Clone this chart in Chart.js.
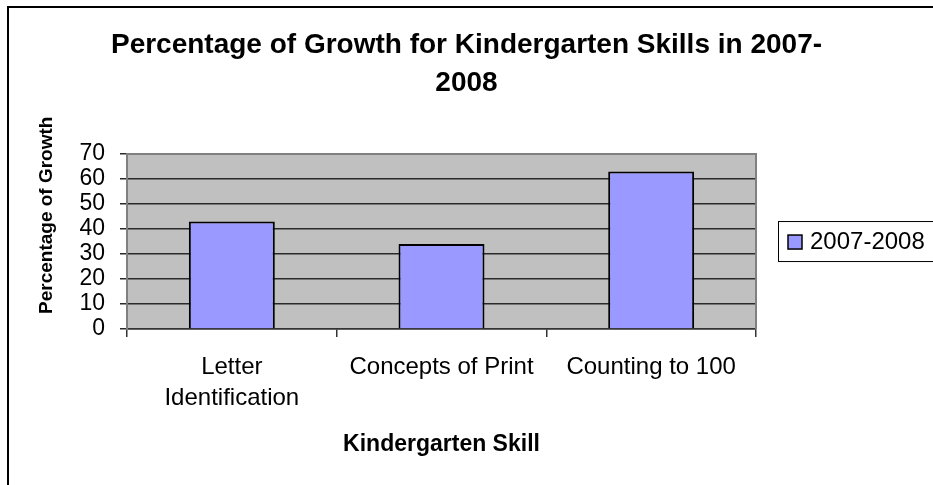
<!DOCTYPE html>
<html>
<head>
<meta charset="utf-8">
<script src="https://cdn.jsdelivr.net/npm/chart.js@4.4.1/dist/chart.umd.min.js"></script>
<style>
    html, body { margin: 0; padding: 0; background: #fff; overflow: hidden; }
    #wrap  { position: relative; width: 933px; height: 485px; overflow: hidden; }
    #frame { position: absolute; left: 7px; top: 6px; width: 1000px; height: 600px;
             border: 2px solid #000; box-sizing: border-box; pointer-events: none; }
    canvas { position: absolute; left: 0; top: 0; }
</style>
</head>
<body>
<div id="wrap">
    <canvas id="chart" width="933" height="485"></canvas>
    <div id="frame"></div>
</div>
<script>
// ── Data ──────────────────────────────────────────────────────
const skills      = [['Letter', 'Identification'], 'Concepts of Print', 'Counting to 100'];
const growth      = [43, 34, 63];
const seriesLabel = '2007-2008';
const yTicks      = [0, 10, 20, 30, 40, 50, 60, 70];
const titleLines  = ['Percentage of Growth for Kindergarten Skills in 2007-', '2008'];
const yTitle      = 'Percentage of Growth';
const xTitle      = 'Kindergarten Skill';

const FONT     = "'Liberation Sans', Arial, sans-serif";
const BAR_FILL = '#9999FF';

// ── Plot background, border, y title, legend ──────────────────
const excelLook = {
    id: 'excelLook',
    beforeDraw(chart) {
        const { ctx, chartArea: a } = chart;
        ctx.save();
        ctx.fillStyle = '#C0C0C0';
        ctx.fillRect(a.left, a.top, a.right - a.left, a.bottom - a.top);
        ctx.restore();
    },
    afterDraw(chart) {
        const { ctx, chartArea: a } = chart;
        ctx.save();
        // plot border top + right
        ctx.strokeStyle = '#808080';
        ctx.lineWidth = 2;
        ctx.beginPath();
        ctx.moveTo(a.left, a.top);
        ctx.lineTo(a.right, a.top);
        ctx.lineTo(a.right, a.bottom);
        ctx.stroke();

        // y axis title (Excel centres it a bit above the plot middle)
        ctx.fillStyle = '#000';
        ctx.font = 'bold 19px ' + FONT;
        ctx.textAlign = 'center';
        ctx.textBaseline = 'middle';
        ctx.translate(47, a.top + (a.bottom - a.top) * 0.35);
        ctx.rotate(-Math.PI / 2);
        ctx.fillText(yTitle, 0, 0);
        ctx.restore();

        // legend box
        const ds = chart.data.datasets[0];
        const lx = a.right + 22, ly = a.top + 67;
        ctx.save();
        ctx.fillStyle = '#fff';
        ctx.fillRect(lx, ly, 200, 41);
        ctx.strokeStyle = '#000';
        ctx.lineWidth = 1;
        ctx.strokeRect(lx + 0.5, ly + 0.5, 200, 40);
        ctx.fillStyle = ds.backgroundColor;
        ctx.fillRect(lx + 10, ly + 14, 14, 14);
        ctx.lineWidth = 1.5;
        ctx.strokeRect(lx + 10, ly + 14, 14, 14);
        ctx.fillStyle = '#000';
        ctx.font = '24px ' + FONT;
        ctx.textAlign = 'left';
        ctx.textBaseline = 'middle';
        ctx.fillText(ds.label, lx + 32, ly + 21);
        ctx.restore();
    }
};

// ── Chart ─────────────────────────────────────────────────────
new Chart(document.getElementById('chart'), {
    type: 'bar',
    data: {
        labels: skills,
        datasets: [{
            label: seriesLabel,
            data: growth,
            backgroundColor: BAR_FILL,
            borderColor: '#000',
            borderWidth: 2,
            barPercentage: 0.41,
            categoryPercentage: 1
        }]
    },
    options: {
        responsive: false,
        animation: false,
        layout: { padding: 0 },
        plugins: {
            legend: { display: false },
            tooltip: { enabled: false },
            title: {
                display: true,
                text: titleLines,
                color: '#000',
                font: { family: FONT, size: 28, weight: 'bold', lineHeight: 1.34 },
                padding: { top: 27, bottom: 52 }
            }
        },
        scales: {
            x: {
                afterFit: s => { s.height = 156; },
                offset: true,
                grid: { offset: true, drawOnChartArea: false, tickLength: 8, color: '#333', lineWidth: 1.5 },
                border: { color: '#333', width: 1.5 },
                ticks: {
                    color: '#000', padding: 15, maxRotation: 0,
                    font: { family: FONT, size: 24, lineHeight: 1.3 }
                },
                title: {
                    display: true, text: xTitle, color: '#000',
                    font: { family: FONT, size: 23, weight: 'bold', lineHeight: 1.2 },
                    padding: { top: 0, bottom: 27 }
                }
            },
            y: {
                afterFit: s => { s.width = 127; },
                min: yTicks[0],
                max: yTicks[yTicks.length - 1],
                afterBuildTicks: s => { s.ticks = yTicks.map(v => ({ value: v })); },
                grid: {
                    tickLength: 7,
                    lineWidth: 1.5,
                    color: c => (c.tick && c.tick.value === 70 ? '#808080' : '#2a2a2a'),
                    tickColor: '#2a2a2a'
                },
                border: { color: '#808080', width: 2 },
                ticks: { color: '#000', padding: 15, autoSkip: false, font: { family: FONT, size: 23 } }
            },
            // empty right-hand axis: reserves the legend's space so the title stays centred on the page
            side: {
                type: 'linear',
                position: 'right',
                display: true,
                afterFit: s => { s.width = 177; },
                grid: { display: false },
                border: { display: false },
                ticks: { display: false }
            }
        }
    },
    plugins: [excelLook]
});
</script>
</body>
</html>
